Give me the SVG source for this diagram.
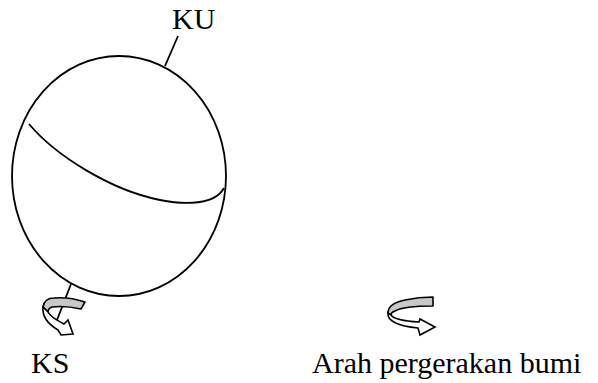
<svg xmlns="http://www.w3.org/2000/svg" width="598" height="383" viewBox="0 0 598 383">
<style>
.ln{fill:none;stroke:#000;stroke-width:1.8}
.band{fill:#c8c8c8;stroke:#000;stroke-width:1.6;stroke-linejoin:round}
.front{fill:#fff;stroke:#000;stroke-width:1.6;stroke-linejoin:miter}
.lbl{font-family:"Liberation Serif","Times New Roman",serif;font-size:30px;fill:#000}
</style>
<rect width="598" height="383" fill="#fff"/>
<g id="earth">
<ellipse class="ln" cx="119" cy="176" rx="107" ry="120"/>
<path class="ln" d="M29,124 C55,155 110,190 160,200 C185,205 215,205 224,188"/>
</g>
<g id="connectors">
<line class="ln" x1="165" y1="66" x2="178" y2="36"/>
<line class="ln" x1="71" y1="284" x2="57" y2="320"/>
</g>
<g id="rotation-ks">
<path class="band" d="M85,302 L81,309 C72,307 60,306 52,307 C49,308 48,310 48,312 L43,307 C44,301 48,298 54,298 C65,297 76,299 85,302 Z"/>
<path class="front" d="M43,307 C42,316 48,324 58,330 L61,335 L73,334 L68,320 L64,324 C56,320 50,316 48,312 Z"/>
</g>
<g id="rotation-legend">
<path class="band" d="M433,297 L433,306 C418,306 402,307 395,311 C392,312 391,313 391,315 L388,313 C388,306 395,302 405,300 C414,298 424,297 433,297 Z"/>
<path class="front" d="M388,313 C387,321 398,326 418,328 L420,335 L435,327 L420,319 L419,322 C402,321 393,318 391,315 Z"/>
</g>
<g id="labels">
<text class="lbl" x="172" y="29">KU</text>
<text class="lbl" x="31" y="373">KS</text>
<text class="lbl" x="312" y="373">Arah pergerakan bumi</text>
</g>
</svg>
